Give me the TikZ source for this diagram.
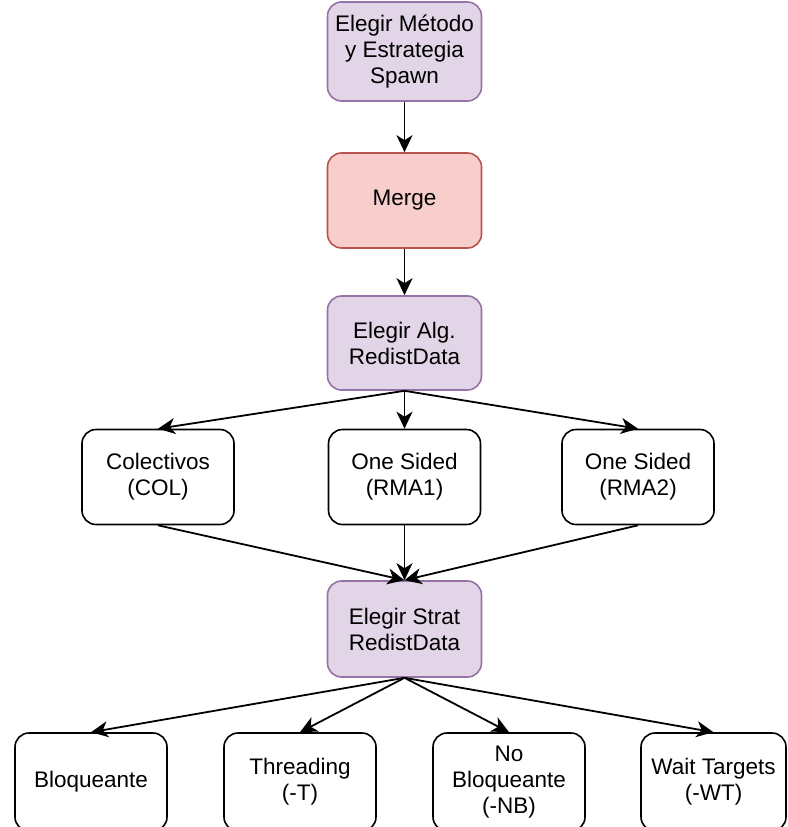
\documentclass[tikz,border=0pt]{standalone}
\usepackage{fontspec}
\setmainfont{Liberation Sans}
\usetikzlibrary{arrows.meta}
\definecolor{purfill}{HTML}{E1D5E7}
\definecolor{purline}{HTML}{9673A6}
\definecolor{redfill}{HTML}{F8CECC}
\definecolor{redline}{HTML}{B85450}
\begin{document}
\begin{tikzpicture}[x=1pt,y=-1pt,
  box/.style={draw=black, fill=white, rounded corners=14pt, line width=1.6pt, align=center,
    font=\fontsize{22.5}{26}\selectfont, inner sep=0pt, text=black,
    minimum width=152pt, minimum height=95pt},
  pbox/.style={box, draw=purline, fill=purfill, minimum width=154pt},
  rbox/.style={box, draw=redline, fill=redfill, minimum width=154pt},
  arr/.style={draw=black, line width=1.8pt, -{Stealth[length=17pt, width=16pt, inset=5pt]}}]
\useasboundingbox (0,0) rectangle (787,827);
\node[pbox, minimum height=99pt] (spawn) at (404.5,51.5) {Elegir Método\\y Estrategia\\Spawn};
\node[rbox] (merge) at (404.5,200.5) {Merge};
\node[pbox, minimum height=94pt] (alg) at (404.5,343) {Elegir Alg.\\RedistData};
\node[box] (col) at (158,477) {Colectivos\\(COL)};
\node[box] (rma1) at (404.5,477) {One Sided\\(RMA1)};
\node[box] (rma2) at (638,477) {One Sided\\(RMA2)};
\node[pbox, minimum height=96pt] (strat) at (404.5,629) {Elegir Strat\\RedistData};
\node[box, minimum height=98pt] (bloq) at (91,782) {Bloqueante};
\node[box, minimum height=98pt] (thr) at (300,782) {Threading\\(-T)};
\node[box, minimum height=98pt] (nb) at (509,782) {No\\Bloqueante\\(-NB)};
\node[box, minimum height=98pt, minimum width=145pt] (wt) at (713.5,782) {Wait Targets\\(-WT)};
\draw[arr] (spawn.south) -- (merge.north);
\draw[arr] (merge.south) -- (alg.north);
\draw[arr] (alg.south) -- (col.north);
\draw[arr] (alg.south) -- (rma1.north);
\draw[arr] (alg.south) -- (rma2.north);
\draw[arr] (col.south) -- (strat.north);
\draw[arr] (rma1.south) -- (strat.north);
\draw[arr] (rma2.south) -- (strat.north);
\draw[arr] (strat.south) -- (bloq.north);
\draw[arr] (strat.south) -- (thr.north);
\draw[arr] (strat.south) -- (nb.north);
\draw[arr] (strat.south) -- (wt.north);
\end{tikzpicture}
\end{document}
